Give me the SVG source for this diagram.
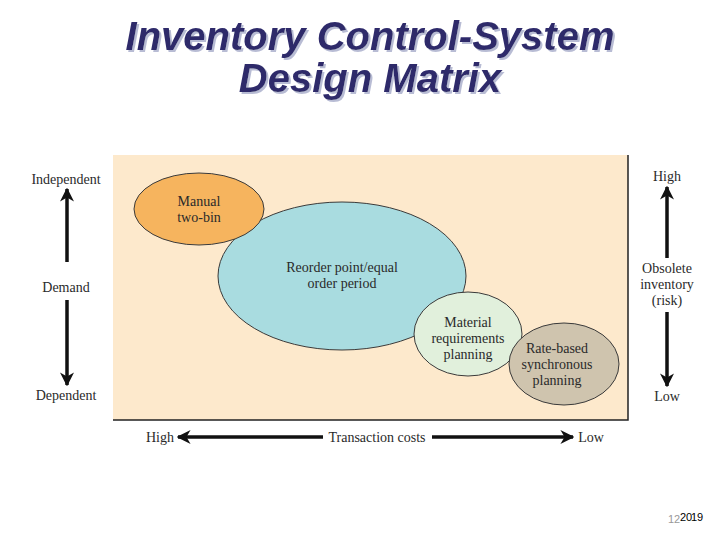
<svg xmlns="http://www.w3.org/2000/svg" width="720" height="540" viewBox="0 0 720 540">
<defs>
<style>
.title{font-family:"Liberation Sans",Arial,sans-serif;font-weight:bold;font-style:italic;font-size:40px;fill:#2e2a6b;text-anchor:middle}
.lbl{font-family:"Liberation Serif","Times New Roman",serif;font-size:14px;fill:#2a2a2a;text-anchor:middle}
.ell{stroke:#3a3a3a;stroke-width:1}
.ax{stroke:#111;stroke-width:3.5;fill:none}
.pg{font-family:"Liberation Sans",Arial,sans-serif;font-size:11px}
</style>
<filter id="sh" x="-5%" y="-20%" width="110%" height="140%">
<feDropShadow dx="2" dy="2" stdDeviation="0.6" flood-color="#b8bcd4" flood-opacity="1"/>
</filter>
<marker id="ah" viewBox="0 0 10 10" refX="9" refY="5" markerWidth="4" markerHeight="4" orient="auto" markerUnits="strokeWidth">
<path d="M0,0 L10,5 L0,10 L3,5 Z" fill="#111"/>
</marker>
</defs>
<rect width="720" height="540" fill="#ffffff"/>
<g id="title" filter="url(#sh)">
<text class="title" x="370" y="50">Inventory Control-System</text>
<text class="title" x="370" y="92">Design Matrix</text>
</g>
<g id="panel">
<rect x="113" y="155" width="515" height="265" fill="#fde9cc"/>
<path d="M113,420 H628 V155" fill="none" stroke="#222" stroke-width="1.5"/>
</g>
<g id="reorder">
<ellipse class="ell" cx="342" cy="276" rx="124" ry="74" fill="#a9dce0"/>
<text class="lbl" x="342" y="272">Reorder point/equal</text>
<text class="lbl" x="342" y="288">order period</text>
</g>
<g id="manual">
<ellipse class="ell" cx="199" cy="209" rx="65" ry="36" fill="#f6b45e"/>
<text class="lbl" x="199" y="206">Manual</text>
<text class="lbl" x="199" y="222">two-bin</text>
</g>
<g id="mrp">
<ellipse class="ell" cx="468" cy="334" rx="54" ry="42" fill="#e1f0dc"/>
<text class="lbl" x="468" y="327">Material</text>
<text class="lbl" x="468" y="343">requirements</text>
<text class="lbl" x="468" y="359">planning</text>
</g>
<g id="ratebased">
<ellipse class="ell" cx="564" cy="364" rx="55" ry="41" fill="#cfc4ae"/>
<text class="lbl" x="557" y="353">Rate-based</text>
<text class="lbl" x="557" y="369">synchronous</text>
<text class="lbl" x="557" y="385">planning</text>
</g>
<g id="connectors">
<line class="ax" x1="67" y1="262" x2="67" y2="189" marker-end="url(#ah)"/>
<line class="ax" x1="67" y1="300" x2="67" y2="385" marker-end="url(#ah)"/>
<line class="ax" x1="667" y1="258" x2="667" y2="187" marker-end="url(#ah)"/>
<line class="ax" x1="667" y1="312" x2="667" y2="386" marker-end="url(#ah)"/>
<line class="ax" x1="323" y1="437" x2="178" y2="437" marker-end="url(#ah)"/>
<line class="ax" x1="432" y1="437" x2="573" y2="437" marker-end="url(#ah)"/>
</g>
<g id="axis-labels">
<text class="lbl" x="66" y="184">Independent</text>
<text class="lbl" x="66" y="292">Demand</text>
<text class="lbl" x="66" y="400">Dependent</text>
<text class="lbl" x="667" y="181">High</text>
<text class="lbl" x="667" y="273">Obsolete</text>
<text class="lbl" x="667" y="289">inventory</text>
<text class="lbl" x="667" y="305">(risk)</text>
<text class="lbl" x="667" y="401">Low</text>
<text class="lbl" x="160" y="442">High</text>
<text class="lbl" x="377" y="442">Transaction costs</text>
<text class="lbl" x="591" y="442">Low</text>
</g>
<g id="pagenum">
<text class="pg" x="668" y="523" fill="#999">12</text>
<text class="pg" x="680" y="521" fill="#000">20</text>
<text class="pg" x="691" y="521" fill="#000">19</text>
</g>
</svg>
